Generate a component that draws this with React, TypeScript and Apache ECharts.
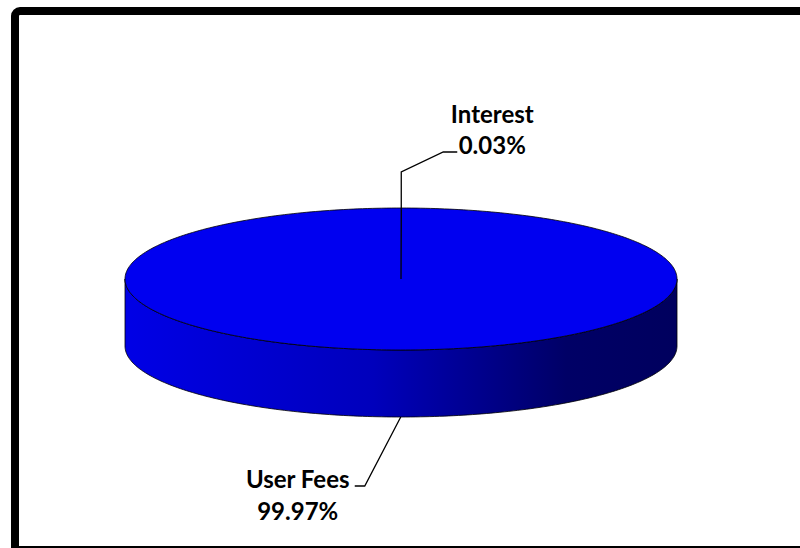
import { useEffect, useRef } from "react";
import * as echarts from "echarts";

const categories = ["Interest", "User Fees"];
const values = [0.03, 99.97];

// layout of the 3D pie (pixels)
const CX = 401;
const CY = 279;
const RX = 276;
const RY = 71;
const DEPTH = 67;

// leader line / label offsets per slice, relative to the slice anchor
const leaderLayouts = [
  { pts: [[0, 0], [0, -36], [42, -56], [56, -56]], label: [91, -95], lh: 31 },
  { pts: [[0, 0], [-36, 69], [-46, 69]], label: [-103, 62], lh: 32 },
];

export default function App() {
  const ref = useRef<HTMLDivElement>(null);
  useEffect(() => {
    const chart = echarts.init(ref.current!, null, { renderer: "svg" });
    const total = values.reduce((a, b) => a + b, 0);
    const starts: number[] = [];
    let acc = 0;
    values.forEach((v) => {
      starts.push(acc);
      acc += (v / total) * 360;
    });
    const pt = (deg: number, dy = 0) => {
      const r = (deg * Math.PI) / 180;
      return [CX + RX * Math.sin(r), CY - RY * Math.cos(r) + dy];
    };
    const arc = (a0: number, a1: number, dy: number) => {
      const n = Math.max(2, Math.ceil(Math.abs(a1 - a0)));
      const out: number[][] = [];
      for (let i = 0; i <= n; i++) out.push(pt(a0 + ((a1 - a0) * i) / n, dy));
      return out;
    };
    const sideGrad = new echarts.graphic.LinearGradient(
      CX - RX, 0, CX + RX, 0,
      [
        { offset: 0, color: "#0000E6" },
        { offset: 0.45, color: "#0000BC" },
        { offset: 0.8, color: "#000066" },
        { offset: 1, color: "#00005E" },
      ],
      true
    );
    const font = "bold 24px Lato";

    chart.setOption({
      animation: false,
      backgroundColor: "#ffffff",
      graphic: [
        {
          type: "rect",
          z: 100,
          silent: true,
          shape: { x: 15, y: 11, width: 800, height: 539, r: [5, 0, 0, 0] },
          style: { fill: "none", stroke: "#000", lineWidth: 8 },
        },
      ],
      series: [
        {
          type: "custom",
          coordinateSystem: "none",
          silent: true,
          data: values.map((v, i) => ({ name: categories[i], value: v })),
          renderItem: (params: any) => {
            const i = params.dataIndex;
            const a0 = starts[i];
            const a1 = a0 + (values[i] / total) * 360;
            const children: any[] = [];
            // side wall (front half only)
            const s0 = Math.max(a0, 90);
            const s1 = Math.min(a1, 270);
            if (s1 > s0) {
              const pts = arc(s0, s1, 0).concat(arc(s1, s0, DEPTH));
              children.push({
                type: "polygon",
                shape: { points: pts },
                style: { fill: sideGrad, stroke: "#000", lineWidth: 0.8 },
              });
            }
            // top face
            const topPts = [[CX, CY]].concat(arc(a0, a1, 0));
            children.push({
              type: "polygon",
              shape: { points: topPts },
              style: { fill: "#0000F0", stroke: "#000", lineWidth: 0.8 },
            });
            // leader + label
            const mid = (a0 + a1) / 2;
            const front = mid > 90 && mid < 270;
            const anchor = pt(mid, front ? DEPTH : 0);
            const lay = leaderLayouts[i];
            children.push({
              type: "polyline",
              shape: { points: lay.pts.map((p) => [anchor[0] + p[0], anchor[1] + p[1]]) },
              style: { fill: "none", stroke: "#000", lineWidth: 1.3 },
            });
            const pct = ((values[i] / total) * 100).toFixed(2) + "%";
            const lx = anchor[0] + lay.label[0];
            const ly = anchor[1] + lay.label[1];
            children.push({
              type: "text",
              style: { text: categories[i], x: lx, y: ly, align: "center", verticalAlign: "middle", font, fill: "#000" },
            });
            children.push({
              type: "text",
              style: { text: pct, x: lx, y: ly + lay.lh, align: "center", verticalAlign: "middle", font, fill: "#000" },
            });
            return { type: "group", children };
          },
        },
      ],
    });
    return () => chart.dispose();
  }, []);
  return (
    <div
      ref={ref}
      style={{ position: "fixed", left: 0, top: 0, width: 800, height: 548, background: "#fff" }}
    />
  );
}
